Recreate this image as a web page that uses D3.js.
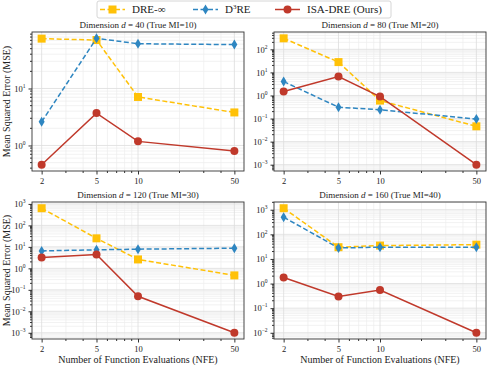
<!DOCTYPE html>
<html>
<head>
<meta charset="utf-8">
<script src="https://cdn.jsdelivr.net/npm/d3@7"></script>
<style>
  body { margin: 0; background: #fff; }
  svg text { font-family: "Liberation Serif", "Times New Roman", "DejaVu Serif", serif !important; fill: #222; }
</style>
</head>
<body>
<div id="chart_container"></div>
<script>
// x values shared by every panel
const nfe = [2, 5, 10, 50];
const dims = [40, 80, 120, 160];
const trueMI = [10, 20, 30, 40];

// one row per panel
const dreInf = [
    [75, 71, 7.1, 3.8],
    [300, 28, 0.6, 0.046],
    [630, 25, 2.6, 0.47],
    [1150, 30, 35, 38]
];
const d3re = [
    [2.6, 76, 61, 59],
    [4, 0.31, 0.24, 0.095],
    [6.5, 7.3, 7.8, 8.7],
    [500, 28, 30, 30]
];
const isaDre = [
    [0.46, 3.7, 1.18, 0.8],
    [1.5, 6.6, 0.9, 0.001],
    [3.2, 4.4, 0.05, 0.001],
    [1.75, 0.3, 0.55, 0.01]
];

const seriesNames = ["DRE-\u221E", "D3RE", "ISA-DRE (Ours)"];
const colors = ["#FFC107", "#2E86C1", "#C0392B"];

const w = 488, h = 365;
const svg = d3.select("#chart_container").append("svg")
    .attr("width", w).attr("height", h);

// panel boxes
const cols = [{x0: 32, x1: 244}, {x0: 274, x1: 486}];
const rows = [{y0: 32, y1: 171}, {y0: 202, y1: 339}];

function pad(lo, hi) {
    const r = hi - lo;
    return [lo - r * 0.05, hi + r * 0.05];
}

function markerPath(kind) {
    if (kind === 0) return "M-4,-4H4V4H-4Z";
    if (kind === 1) return "M0,-5L3,0L0,5L-3,0Z";
    return null;
}

function supLabel(sel, exp) {
    sel.text("");
    sel.append("tspan").text("10");
    sel.append("tspan").attr("dy", -4).attr("font-size", 5.5)
        .text(exp < 0 ? "\u2212" + (-exp) : exp);
}

dims.forEach((dim, p) => {
    const col = cols[p % 2], row = rows[Math.floor(p / 2)];
    const g = svg.append("g");

    const xd = pad(Math.log10(2), Math.log10(50));
    const xScale = d3.scaleLog().domain([10 ** xd[0], 10 ** xd[1]]).range([col.x0, col.x1]);

    const all = dreInf[p].concat(d3re[p], isaDre[p]);
    const yd = pad(Math.log10(d3.min(all)), Math.log10(d3.max(all)));
    const yScale = d3.scaleLog().domain([10 ** yd[0], 10 ** yd[1]]).range([row.y1, row.y0]);

    // grid lines
    const minorY = [], majorY = [];
    for (let e = Math.floor(yd[0]); e <= Math.ceil(yd[1]); e++) {
        for (let m = 1; m < 10; m++) {
            const v = m * 10 ** e;
            const lv = Math.log10(v);
            if (lv < yd[0] || lv > yd[1]) continue;
            (m === 1 ? majorY : minorY).push(v);
        }
    }
    const minorX = [3, 4, 6, 7, 8, 9, 20, 30, 40];

    g.selectAll(".gy").data(minorY).enter().append("line")
        .attr("x1", col.x0).attr("x2", col.x1)
        .attr("y1", d => yScale(d)).attr("y2", d => yScale(d))
        .attr("stroke", "#ececec").attr("stroke-width", 0.7);
    g.selectAll(".gx").data(minorX).enter().append("line")
        .attr("y1", row.y0).attr("y2", row.y1)
        .attr("x1", d => xScale(d)).attr("x2", d => xScale(d))
        .attr("stroke", "#ececec").attr("stroke-width", 0.7);
    g.selectAll(".gY").data(majorY).enter().append("line")
        .attr("x1", col.x0).attr("x2", col.x1)
        .attr("y1", d => yScale(d)).attr("y2", d => yScale(d))
        .attr("stroke", "#dddddd").attr("stroke-width", 0.8);
    g.selectAll(".gX").data(nfe).enter().append("line")
        .attr("y1", row.y0).attr("y2", row.y1)
        .attr("x1", d => xScale(d)).attr("x2", d => xScale(d))
        .attr("stroke", "#dddddd").attr("stroke-width", 0.8);

    // axes
    const xAxis = d3.axisBottom(xScale).tickValues(nfe).tickFormat(d3.format("d")).tickSize(3.5).tickSizeOuter(0);
    const xa = g.append("g").attr("transform", "translate(0," + row.y1 + ")").call(xAxis);
    xa.append("g").selectAll("line").data(minorX).enter().append("line")
        .attr("x1", d => xScale(d)).attr("x2", d => xScale(d))
        .attr("y1", 0).attr("y2", 2).attr("stroke", "#333");

    const yAxis = d3.axisLeft(yScale).tickValues(majorY).tickSize(3.5).tickSizeOuter(0);
    const ya = g.append("g").attr("transform", "translate(" + col.x0 + ",0)").call(yAxis);
    ya.selectAll(".tick text").each(function (d) {
        supLabel(d3.select(this), Math.round(Math.log10(d)));
    });
    ya.append("g").selectAll("line").data(minorY).enter().append("line")
        .attr("y1", d => yScale(d)).attr("y2", d => yScale(d))
        .attr("x1", 0).attr("x2", -2).attr("stroke", "#333");

    [xa, ya].forEach(a => {
        a.attr("font-family", null);
        a.select(".domain").remove();
        a.selectAll(".tick line").attr("stroke", "#333");
        a.selectAll("text").attr("font-size", 8.5).attr("fill", "#222");
    });

    // frame
    g.append("rect").attr("x", col.x0).attr("y", row.y0)
        .attr("width", col.x1 - col.x0).attr("height", row.y1 - row.y0)
        .attr("fill", "none").attr("stroke", "#333").attr("stroke-width", 0.9);

    // title
    const t = g.append("text").attr("x", (col.x0 + col.x1) / 2).attr("y", row.y0 - 4)
        .attr("text-anchor", "middle").attr("font-size", 9);
    t.append("tspan").text("Dimension ");
    t.append("tspan").attr("font-style", "italic").text("d");
    t.append("tspan").text(" = " + dim + " (True MI=" + trueMI[p] + ")");

    // series
    [dreInf[p], d3re[p], isaDre[p]].forEach((vals, s) => {
        const pts = vals.map((v, i) => [xScale(nfe[i]), yScale(v)]);
        g.append("path").attr("d", d3.line()(pts))
            .attr("fill", "none").attr("stroke", colors[s]).attr("stroke-width", 1.5)
            .attr("stroke-dasharray", s < 2 ? "5,2.5" : null);
        pts.forEach(pt => {
            if (s === 2) {
                g.append("circle").attr("cx", pt[0]).attr("cy", pt[1]).attr("r", 4).attr("fill", colors[s]);
            } else {
                g.append("path").attr("d", markerPath(s))
                    .attr("transform", "translate(" + pt[0] + "," + pt[1] + ")")
                    .attr("fill", colors[s]);
            }
        });
    });

    // axis labels
    if (p % 2 === 0) {
        svg.append("text").attr("transform", "translate(10," + (row.y0 + row.y1) / 2 + ") rotate(-90)")
            .attr("text-anchor", "middle").attr("font-size", 10).text("Mean Squared Error (MSE)");
    }
    if (p >= 2) {
        svg.append("text").attr("x", (col.x0 + col.x1) / 2).attr("y", 363)
            .attr("text-anchor", "middle").attr("font-size", 10).text("Number of Function Evaluations (NFE)");
    }
});

// legend
const lg = svg.append("g");
lg.append("rect").attr("x", 97).attr("y", 1).attr("width", 294).attr("height", 17).attr("rx", 2)
    .attr("fill", "#fff").attr("stroke", "#cccccc").attr("stroke-width", 0.8);
const legendX = [100, 193, 275];
seriesNames.forEach((name, s) => {
    const x = legendX[s], y = 9.5;
    lg.append("line").attr("x1", x).attr("x2", x + 25).attr("y1", y).attr("y2", y)
        .attr("stroke", colors[s]).attr("stroke-width", 1.5)
        .attr("stroke-dasharray", s < 2 ? "5,2.5" : null);
    if (s === 2) {
        lg.append("circle").attr("cx", x + 12.5).attr("cy", y).attr("r", 4).attr("fill", colors[s]);
    } else {
        lg.append("path").attr("d", markerPath(s)).attr("transform", "translate(" + (x + 12.5) + "," + y + ")")
            .attr("fill", colors[s]);
    }
    const t = lg.append("text").attr("x", x + 32).attr("y", y + 3.8).attr("font-size", 11);
    if (s === 1) {
        t.append("tspan").text("D");
        t.append("tspan").attr("dy", -4).attr("font-size", 7).text("3");
        t.append("tspan").attr("dy", 4).text("RE");
    } else {
        t.text(name);
    }
});
</script>
</body>
</html>
